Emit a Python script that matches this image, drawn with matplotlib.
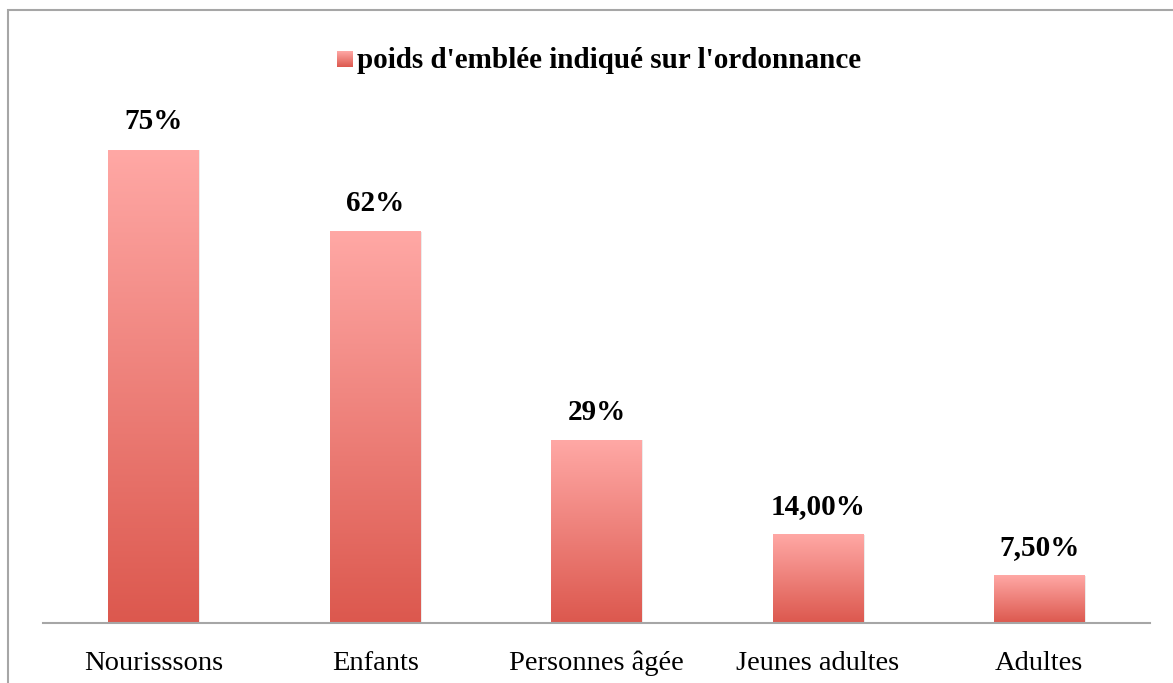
import matplotlib.pyplot as plt
import numpy as np
from matplotlib.colors import LinearSegmentedColormap
from matplotlib.patches import Rectangle

# données
categories = ["Nourisssons", "Enfants", "Personnes âgée", "Jeunes adultes", "Adultes"]
valeurs = [75, 62, 29, 14, 7.5]
etiquettes = ["75%", "62%", "29%", "14,00%", "7,50%"]
serie = "poids d'emblée indiqué sur l'ordonnance"

plt.rcParams['font.family'] = ['Liberation Serif', 'DejaVu Serif']

# dégradé rouge (bas) -> rose (haut)
cmap = LinearSegmentedColormap.from_list("rouge", ["#DC584E", "#FFA8A5"])
grad = np.linspace(0, 1, 256).reshape(-1, 1)

W, H = 1173, 683
fig = plt.figure(figsize=(W / 100, H / 100), dpi=100)

# cadre gris du graphique
fig.patches.append(Rectangle((8 / W, -0.05), 1.1, 1 - 10 / H + 0.05, transform=fig.transFigure,
                             fill=False, edgecolor="#A6A6A6", linewidth=1.5))

ax_bas = 623
px_par_pct = (623 - 150) / 75
ymax = 80
ax_haut = ax_bas - ymax * px_par_pct
ax = fig.add_axes([43 / W, (H - ax_bas) / H, (1150 - 43) / W, (ax_bas - ax_haut) / H])

x = np.arange(len(categories))
largeur = 0.41
for xi, v, lab in zip(x, valeurs, etiquettes):
    # petite ombre
    ax.add_patch(Rectangle((xi - largeur / 2 + 0.006, 0), largeur, v, facecolor="#000000",
                           alpha=0.08, edgecolor="none", zorder=1))
    ax.imshow(grad, extent=[xi - largeur / 2, xi + largeur / 2, 0, v], origin="lower",
              cmap=cmap, aspect="auto", zorder=2)
    ax.text(xi, v + 2.3, lab, ha="center", va="bottom", fontsize=21, fontweight="bold")

ax.set_xlim(-0.5, len(categories) - 0.5)
ax.set_ylim(0, ymax)
ax.set_xticks(x)
ax.set_xticklabels(categories, fontsize=20.5)
ax.tick_params(axis="x", length=0, pad=20)
ax.set_yticks([])
for s in ["top", "right", "left"]:
    ax.spines[s].set_visible(False)
ax.spines["bottom"].set_color("#A6A6A6")
ax.spines["bottom"].set_linewidth(1.5)

# légende en haut
leg_ax = fig.add_axes([337 / W, (H - 67) / H, 16 / W, 16 / H])
leg_ax.imshow(grad, origin="lower", cmap=cmap, aspect="auto")
leg_ax.axis("off")
fig.text(357 / W, 1 - 60 / H, serie, ha="left", va="center", fontsize=21, fontweight="bold")

fig.savefig("out.png", dpi=100)
